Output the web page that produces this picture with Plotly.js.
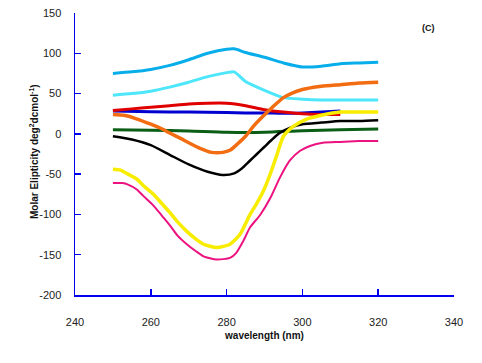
<!DOCTYPE html>
<html>
<head>
<meta charset="utf-8">
<script src="https://cdn.plot.ly/plotly-3.0.1.min.js"></script>
<style>html,body{margin:0;padding:0;background:#fff;}</style>
</head>
<body>
<div id="chart" style="width:482px;height:363px;"></div>
<script>
// Wavelength grids (nm) and molar ellipticity values for each trace
const cyanDarkX = [250,255,260,265,270,275,280,282,285,290,295,300,305,310,315,320];
const cyanDarkY = [75,77,80,85,92,100,105,105.5,101,95,88,83,84,87,88,89];

const cyanLightX = [250,255,260,265,270,275,280,282,285,290,295,300,305,310,320];
const cyanLightY = [48,50,53,58,64,71,76,77,65,54,45,43,42,42,42];

const redX = [250,255,260,265,270,275,280,285,290,295,300,305,310];
const redY = [29,31,33,35,37,38,38,35,30,27,25,24,24];

const blueX = [250,260,270,280,285,290,295,300,305,310];
const blueY = [28.5,27.5,27,26.5,26,26,25.5,26,27,28.5];

const orangeX = [250,253,256,260,263,265,268,270,273,276,279,281,283,285,287,289,291,293,295,297,300,305,310,315,320];
const orangeY = [24,23,19,12,6,1,-6,-11,-18,-23,-23,-20,-12,-3,9,19,28,37,45,50,55,59,61,63,64];

const greenX = [250,260,270,280,290,300,310,320];
const greenY = [5,4.5,3.5,2,2,4,5,6];

const blackX = [250,255,260,265,270,275,279,282,284,286,288,290,292,294,297,300,305,310,315,320];
const blackY = [-3,-7,-14,-26,-38,-47,-51,-49,-43,-34,-25,-16,-7,1,8,12,14,16,16,17];

const yellowX = [250,252,254,256.3,258,260.7,263,265.1,267,269.5,272,273.9,277.4,280.9,283.5,286.2,288,289.7,291.5,293.2,295,297.5,301,305,310,315,320];
const yellowY = [-44,-45,-50,-56,-64,-75,-87,-98,-109,-121,-131,-137,-141,-137,-125,-100,-86,-71,-50,-27,-3,9,18,23,27,27,27];

const pinkX = [250,252.5,254,256.3,258,260.7,263,265.1,267,269.5,272,273.9,277.4,280.9,282.5,284.4,286.2,288.8,291.5,294.1,296.7,299.4,302,305.4,310,315,320];
const pinkY = [-61,-61,-63,-69,-77,-89,-102,-114,-126,-137,-146,-152,-156,-154,-148,-133,-116,-101,-80,-54,-33,-21,-15,-11,-10,-9,-9];

const xTicks = [240,260,280,300,320,340];
const yTicks = [-200,-150,-100,-50,0,50,100,150];

function tr(x, y, color, width) {
  return {x: x, y: y, type: 'scatter', mode: 'lines',
          line: {color: color, width: width, shape: 'spline', smoothing: 0.6},
          hoverinfo: 'skip', showlegend: false};
}

const data = [
  tr(greenX, greenY, '#0b5e16', 3),
  tr(blueX, blueY, '#0000d0', 3),
  tr(redX, redY, '#e00000', 3),
  tr(cyanDarkX, cyanDarkY, '#08aeea', 3),
  tr(cyanLightX, cyanLightY, '#4ee6fb', 3),
  tr(blackX, blackY, '#000000', 2.5),
  tr(pinkX, pinkY, '#ec127f', 2),
  tr(yellowX, yellowY, '#f8ec00', 3.5),
  tr(orangeX, orangeY, '#f26c12', 3.5)
];

const tickFont = {family: 'Liberation Sans, Arial, sans-serif', size: 11, color: '#222'};
const titleFont = {family: 'Liberation Sans, Arial, sans-serif', size: 10, color: '#111'};

const layout = {
  width: 482, height: 363,
  margin: {l: 75, r: 28, t: 13, b: 68},
  paper_bgcolor: '#fff', plot_bgcolor: '#fff',
  xaxis: {
    range: [240, 340], tickvals: xTicks, ticktext: xTicks.map(String),
    showgrid: false, zeroline: false, showline: true, linecolor: '#0000ee', linewidth: 1.5,
    ticks: 'inside', ticklen: 6, tickcolor: '#0000ee', tickwidth: 1.5,
    tickfont: tickFont, ticklabelstandoff: 16,
    title: {text: '<b>wavelength (nm)</b>', font: titleFont, standoff: 5}
  },
  yaxis: {
    range: [-200, 150], tickvals: yTicks, ticktext: yTicks.map(String),
    showgrid: false, zeroline: false, showline: true, linecolor: '#0000ee', linewidth: 1.5,
    ticks: 'inside', ticklen: 6, tickcolor: '#0000ee', tickwidth: 1.5,
    tickfont: tickFont, ticklabelstandoff: 10
  },
  annotations: [{
    xref: 'paper', yref: 'paper', x: 0.934, y: 0.947, xanchor: 'center', yanchor: 'middle',
    text: '<b>(C)</b>', showarrow: false,
    font: {family: 'Liberation Sans, Arial, sans-serif', size: 9, color: '#111'}
  }, {
    xref: 'paper', yref: 'paper', x: (34 - 75) / 379, y: (295 - 152) / 282,
    xanchor: 'center', yanchor: 'middle', textangle: -90, showarrow: false,
    text: '<b>Molar Elipticity deg<sup>2</sup>dcmol<sup>-1</sup>)</b>',
    font: titleFont
  }]
};

Plotly.newPlot('chart', data, layout, {displayModeBar: false, staticPlot: true});
</script>
</body>
</html>
